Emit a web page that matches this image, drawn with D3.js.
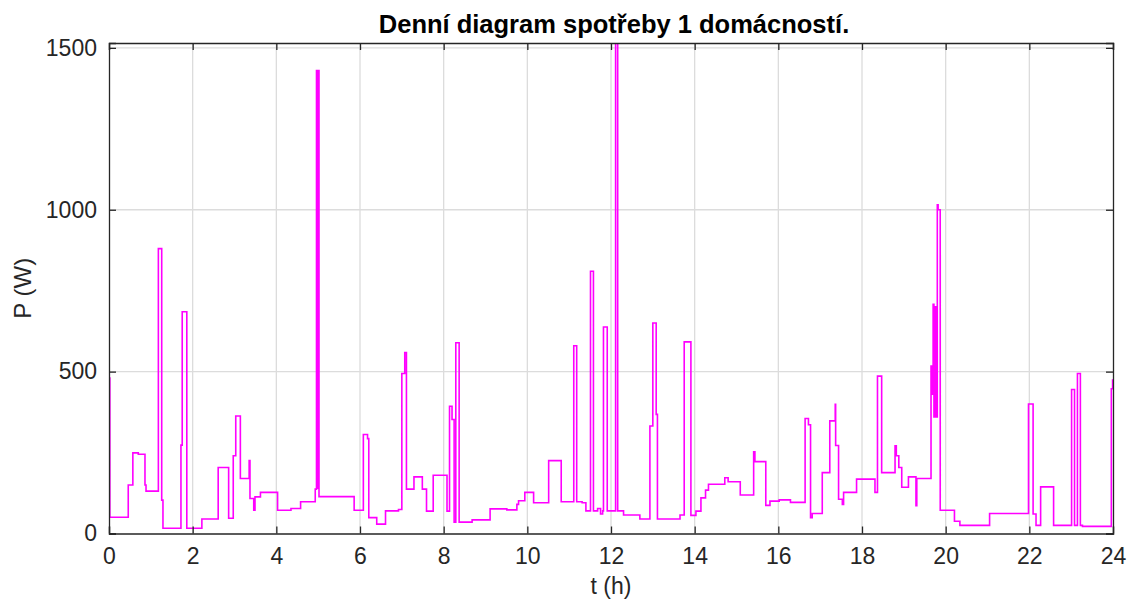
<!DOCTYPE html>
<html><head><meta charset="utf-8">
<script src="https://cdn.jsdelivr.net/npm/d3@7"></script>
<style>body{margin:0;background:#fff}svg{display:block}text{font-family:"Liberation Sans",Arial,Helvetica,sans-serif}</style>
</head><body>
<svg id="c" width="1130" height="601"></svg>
<script>
const title = "Denní diagram spotřeby 1 domácností.";
const xLabel = "t (h)";
const yLabel = "P (W)";
const xTicks = [0,2,4,6,8,10,12,14,16,18,20,22,24];
const yTicks = [0,500,1000,1500];
// step start times (h)
const times = [0,0.02,0.46,0.57,0.70,0.86,0.885,1.18,1.26,1.29,1.72,1.75,1.86,2.22,2.61,2.86,2.97,3.03,3.14,3.35,3.37,3.46,3.49,3.62,4.03,4.35,4.58,4.93,4.96,4.975,4.985,5.02,5.86,6.08,6.18,6.21,6.40,6.61,6.92,7.00,7.07,7.11,7.29,7.49,7.59,7.75,8.08,8.14,8.20,8.25,8.29,8.37,8.68,9.11,9.51,9.75,9.79,9.94,10.15,10.51,10.81,11.11,11.18,11.31,11.40,11.51,11.58,11.68,11.75,11.80,11.82,11.91,12.11,12.16,12.30,12.69,12.93,13.00,13.08,13.11,13.65,13.75,13.91,14.03,14.15,14.26,14.33,14.72,14.80,15.09,15.41,15.44,15.70,15.80,16.02,16.29,16.64,16.72,16.77,16.81,17.05,17.23,17.36,17.37,17.44,17.53,17.56,17.87,18.31,18.37,18.47,18.79,18.82,18.88,18.95,19.11,19.29,19.31,19.65,19.68,19.70,19.72,19.75,19.77,19.80,19.82,19.87,20.21,20.34,21.05,21.98,22.09,22.16,22.27,22.58,23.01,23.08,23.15,23.22,23.27,23.96,23.99,24];
// power (W) from each time on
const power = [480,50,150,249,245,150,131,880,103,16,273,685,16,45,204,47,240,363,170,225,108,72,113,127,72,77,98,137,1430,140,1430,114,72,306,293,49,29,70,74,494,559,137,175,137,69,180,69,393,352,35,589,35,42,76,73,90,101,127,95,225,98,580,98,95,70,810,70,77,60,70,638,70,1530,70,57,45,332,650,368,45,57,592,56,69,110,134,152,172,160,119,252,222,87,100,104,96,355,336,49,62,188,348,399,272,106,90,127,168,127,486,188,271,240,204,143,175,86,170,517,430,708,360,700,360,1015,1000,72,38,25,62,400,60,25,144,25,445,25,494,25,22,447,474,474];

const svg = d3.select("#c");
const L=109, R=1113, T=43, B=533.5;
const x = d3.scaleLinear().domain([0,24]).range([L,R]);
const y = d3.scaleLinear().domain([0,1515]).range([B,T]);
const axisCol="#262626", gridCol="#dcdcdc";

// grid
svg.append("g").selectAll("line").data(xTicks.slice(1,-1)).join("line")
  .attr("x1",d=>x(d)).attr("x2",d=>x(d)).attr("y1",T).attr("y2",B)
  .attr("stroke",gridCol).attr("stroke-width",1.3);
svg.append("g").selectAll("line").data(yTicks.slice(1)).join("line")
  .attr("x1",L).attr("x2",R).attr("y1",d=>y(d)).attr("y2",d=>y(d))
  .attr("stroke",gridCol).attr("stroke-width",1.3);

// data line
svg.append("clipPath").attr("id","clip").append("rect").attr("x",L).attr("y",T).attr("width",R-L).attr("height",B-T);
const pts = times.map((t,i)=>[t,power[i]]);
const line = d3.line().x(d=>x(d[0])).y(d=>y(d[1])).curve(d3.curveStepAfter);
svg.append("path").datum(pts).attr("d",line).attr("fill","none")
  .attr("stroke","#ff00ff").attr("stroke-width",1.6).attr("clip-path","url(#clip)");

// axes (MATLAB-like, ticks inward, box on)
const tl=7;
const axB = d3.axisBottom(x).tickValues(xTicks).tickSize(-tl).tickPadding(14).tickFormat(d3.format("d"));
const axT = d3.axisTop(x).tickValues(xTicks).tickSize(-tl).tickFormat("");
const axL = d3.axisLeft(y).tickValues(yTicks).tickSize(-tl).tickPadding(12).tickFormat(d3.format("d"));
const axR = d3.axisRight(y).tickValues(yTicks).tickSize(-tl).tickFormat("");
function style(g){
  g.select(".domain").attr("stroke",axisCol).attr("stroke-width",1.3);
  g.selectAll(".tick line").attr("stroke",axisCol).attr("stroke-width",1.3);
  g.selectAll(".tick text").attr("fill",axisCol).attr("font-size",23).attr("font-family","Liberation Sans, Arial, sans-serif");
}
svg.append("g").attr("transform",`translate(0,${B})`).call(axB).call(style);
svg.append("g").attr("transform",`translate(0,${T})`).call(axT).call(style);
svg.append("g").attr("transform",`translate(${L},0)`).call(axL).call(style);
svg.append("g").attr("transform",`translate(${R},0)`).call(axR).call(style);

// labels
svg.append("text").attr("x",614).attr("y",33).attr("text-anchor","middle")
  .attr("font-size",25.5).attr("font-weight","bold").attr("fill","#000").text(title);
svg.append("text").attr("x",(L+R)/2).attr("y",594).attr("text-anchor","middle")
  .attr("font-size",23).attr("fill",axisCol).text(xLabel);
svg.append("text").attr("transform",`translate(31,${(T+B)/2}) rotate(-90)`).attr("text-anchor","middle")
  .attr("font-size",24).attr("fill",axisCol).text(yLabel);
</script>
</body></html>
